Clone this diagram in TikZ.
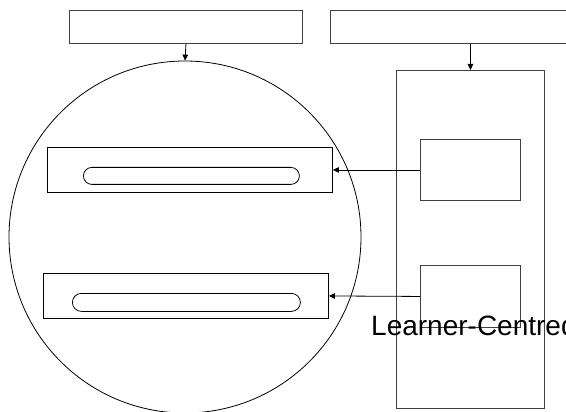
\documentclass[tikz,border=0pt]{standalone}
\usepackage{fontspec}
\setmainfont{Liberation Sans}
\usetikzlibrary{arrows.meta}
\begin{document}
\begin{tikzpicture}[x=1pt,y=-1pt,
  box/.style={draw=black!75, line width=0.9pt, inner sep=0pt, anchor=north west},
  pill/.style={draw=black, line width=0.8pt, inner sep=0pt, rounded corners=8.5pt, anchor=north west},
  conn/.style={draw=black, line width=0.8pt, -{Triangle[length=6pt,width=5.5pt]}}]
\useasboundingbox (0,0) rectangle (566,412);
\clip (0,0) rectangle (566,412);
\fill[white] (0,0) rectangle (566,412);
% circle
\node[draw=black, line width=0.8pt, circle, minimum size=352pt, inner sep=0pt] (circ) at (185,237) {};
% top boxes
\node[box, minimum width=233pt, minimum height=33pt] (t1) at (69,10) {};
\node[box, minimum width=280pt, minimum height=33pt] (t2) at (330,10) {};
% tall box
\node[box, minimum width=148pt, minimum height=338pt] (tall) at (396,70) {};
% small boxes
\node[box, minimum width=100pt, minimum height=61pt] (s1) at (420,139) {};
\node[box, minimum width=100pt, minimum height=62pt] (s2) at (420,265) {};
% inner boxes in circle
\node[box, draw=black, minimum width=285pt, minimum height=45pt] (b1) at (47,147) {};
\node[box, draw=black, minimum width=285pt, minimum height=45pt] (b2) at (43,273) {};
\node[pill, minimum width=216pt, minimum height=17pt] (p1) at (83,167) {};
\node[pill, minimum width=228pt, minimum height=18pt, rounded corners=9pt] (p2) at (72,293) {};
% connectors
\draw[conn] (t1.south) -- (circ.north);
\draw[conn] (t2.south -| tall.north) -- (tall.north);
\draw[conn] (s1.west) -- (b1.east);
\draw[conn] (s2.west) -- (b2.east);
% text
\node[anchor=base west, inner sep=0pt, font=\fontsize{28}{30}\selectfont] (lbl) at (371,335) {Learner-Centred};
\end{tikzpicture}
\end{document}
